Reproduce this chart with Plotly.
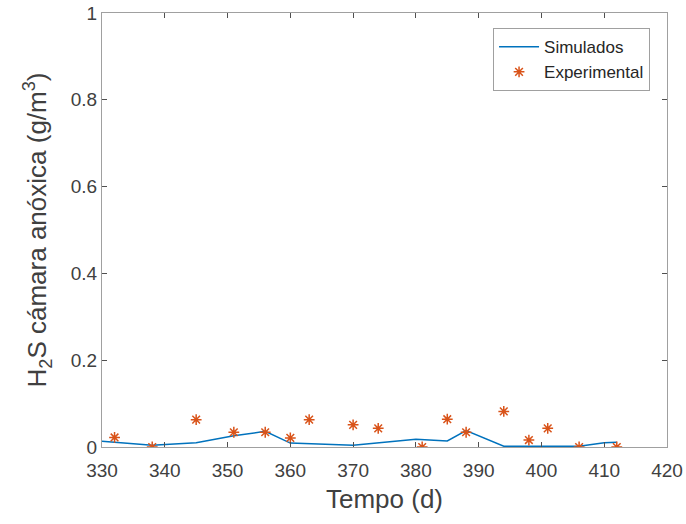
import plotly.graph_objects as go

sim_t = [330, 338, 345, 351, 356, 360, 370, 380, 385, 388, 394, 398, 406, 410, 412]
sim_v = [0.013, 0.004, 0.010, 0.026, 0.036, 0.009, 0.004, 0.018, 0.014, 0.038, 0.002, 0.002, 0.002, 0.010, 0.011]

exp_t = [332, 338, 345, 351, 356, 360, 363, 370, 374, 381, 385, 388, 394, 398, 401, 406, 412]
exp_v = [0.022, 0.0, 0.063, 0.034, 0.034, 0.021, 0.063, 0.051, 0.043, 0.0, 0.064, 0.034, 0.082, 0.016, 0.043, 0.0, 0.0]

x_ticks = [330, 340, 350, 360, 370, 380, 390, 400, 410, 420]
y_ticks = [0, 0.2, 0.4, 0.6, 0.8, 1]
y_labels = ["0", "0.2", "0.4", "0.6", "0.8", "1"]

font = "Liberation Sans, Arial, sans-serif"
fig = go.Figure()
fig.add_trace(go.Scatter(x=sim_t, y=sim_v, mode="lines", name="Simulados",
                         line=dict(color="#0072BD", width=1.5)))
fig.add_trace(go.Scatter(x=exp_t, y=exp_v, mode="markers", name="Experimental",
                         marker=dict(symbol="asterisk-open", size=9,
                                     line=dict(color="#D95319", width=1.5), color="#D95319")))

axis_common = dict(showgrid=False, zeroline=False, showline=True, linecolor="#a0a0a0",
                   linewidth=1, mirror="ticks", ticks="inside", ticklen=5, tickcolor="#505050",
                   automargin=False, ticklabeloverflow="allow",
                   tickfont=dict(family=font, size=19, color="#404040"))
fig.update_layout(
    width=686, height=524,
    margin=dict(l=102, r=19, t=13, b=77),
    plot_bgcolor="white", paper_bgcolor="white",
    showlegend=True,
    legend=dict(x=0.970, y=0.965, xanchor="right", yanchor="top",
                bgcolor="white", bordercolor="#a0a0a0", borderwidth=1, itemwidth=40,
                font=dict(family=font, size=17, color="#262626"), tracegroupgap=0),
    xaxis=dict(range=[330, 420], tickvals=x_ticks, ticklabelstandoff=6,
               title=dict(text="Tempo (d)", standoff=10,
                          font=dict(family=font, size=26, color="#404040")), **axis_common),
    yaxis=dict(range=[0, 1], tickvals=y_ticks, ticktext=y_labels,
               title=dict(text="H<sub>2</sub>S cámara anóxica (g/m<sup>3</sup>)", standoff=16,
                          font=dict(family=font, size=26, color="#404040")), **axis_common),
)
fig.write_html("out.html", config={"displayModeBar": False},
               post_script="document.body.style.margin='0px';")
